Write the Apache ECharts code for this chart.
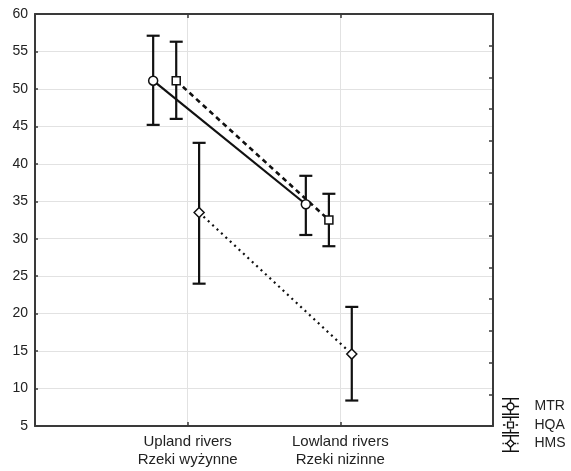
<!DOCTYPE html>
<html>
<head>
<meta charset="utf-8">
<script src="https://cdn.jsdelivr.net/npm/echarts@6/dist/echarts.min.js"></script>
<style>
  html, body { margin: 0; padding: 0; background: #fff; }
  #chart { width: 571px; height: 471px; }
</style>
</head>
<body>
<div id="chart"></div>
<script>
// ---------- data ----------
const categories = ['Upland rivers\nRzeki wyżynne', 'Lowland rivers\nRzeki nizinne'];
const seriesNames = ['MTR', 'HQA', 'HMS'];
const mtrMean = [51.1, 34.6];
const mtrLow  = [45.2, 30.5];
const mtrHigh = [57.1, 38.4];
const hqaMean = [51.1, 32.5];
const hqaLow  = [46.0, 29.0];
const hqaHigh = [56.3, 36.0];
const hmsMean = [33.5, 14.6];
const hmsLow  = [24.0, 8.4];
const hmsHigh = [42.8, 20.9];
const yMin = 5, yMax = 60, yStep = 5;

// ---------- styling ----------
const FONT = '"Liberation Sans", Arial, sans-serif';
const INK = '#111';
const AXIS = '#3a3a3a';
const offsets = [-0.226, -0.075, 0.075];   // horizontal dodge of each series (in category units)
const lineTypes = ['solid', [5, 4], [2, 4]];
const lineWidths = [2.2, 2.6, 2.2];
const symbols = ['circle', 'rect', 'diamond'];
const symbolSizes = [9, 8, 10];

const means = [mtrMean, hqaMean, hmsMean];
const lows = [mtrLow, hqaLow, hmsLow];
const highs = [mtrHigh, hqaHigh, hmsHigh];

function rect(x1, y1, x2, y2) {
  return 'M' + x1 + ' ' + y1 + ' L' + x2 + ' ' + y1 + ' L' + x2 + ' ' + y2 + ' L' + x1 + ' ' + y2 + ' Z ';
}
const common = rect(0, 0, 18, 1.5) + rect(0, 16.5, 18, 18) +
  rect(8.3, 1.5, 9.7, 4.6) + rect(8.3, 13.4, 9.7, 16.5);
const icons = [
  'path://' + common + rect(0, 8.3, 4.6, 9.7) + rect(13.4, 8.3, 18, 9.7) +
    'M4.6 9 A4.4 4.4 0 1 0 13.4 9 A4.4 4.4 0 1 0 4.6 9 Z M6.1 9 A2.9 2.9 0 1 1 11.9 9 A2.9 2.9 0 1 1 6.1 9 Z',
  'path://' + common + rect(1, 8.3, 3.6, 9.7) + rect(14.4, 8.3, 17, 9.7) +
    'M5.2 5.2 L12.8 5.2 L12.8 12.8 L5.2 12.8 Z M6.6 6.6 L6.6 11.4 L11.4 11.4 L11.4 6.6 Z',
  'path://' + common + rect(0.5, 8.3, 1.9, 9.7) + rect(3, 8.3, 4.4, 9.7) +
    rect(13.6, 8.3, 15, 9.7) + rect(16.1, 8.3, 17.5, 9.7) +
    'M9 4 L14 9 L9 14 L4 9 Z M9 6 L6 9 L9 12 L12 9 Z'
];

const series = [];
// error bars
seriesNames.forEach(function (name, s) {
  series.push({
    name: name + ' error',
    type: 'custom',
    xAxisIndex: 0,
    yAxisIndex: 0,
    z: 2,
    silent: true,
    encode: { x: 0, y: [1, 2] },
    data: categories.map(function (c, i) { return [i + 1 + offsets[s], lows[s][i], highs[s][i]]; }),
    renderItem: function (params, api) {
      const x = api.value(0);
      const pLo = api.coord([x, api.value(1)]);
      const pHi = api.coord([x, api.value(2)]);
      const hw = 6.5;
      const st = { stroke: INK, lineWidth: 2.2, fill: null };
      return {
        type: 'group',
        children: [
          { type: 'line', shape: { x1: pLo[0], y1: pLo[1], x2: pHi[0], y2: pHi[1] }, style: st },
          { type: 'line', shape: { x1: pHi[0] - hw, y1: pHi[1], x2: pHi[0] + hw, y2: pHi[1] }, style: st },
          { type: 'line', shape: { x1: pLo[0] - hw, y1: pLo[1], x2: pLo[0] + hw, y2: pLo[1] }, style: st }
        ]
      };
    }
  });
});
// mean lines with markers
seriesNames.forEach(function (name, s) {
  series.push({
    name: name,
    type: 'line',
    xAxisIndex: 0,
    yAxisIndex: 0,
    z: 3,
    data: categories.map(function (c, i) { return [i + 1 + offsets[s], means[s][i]]; }),
    symbol: symbols[s],
    symbolSize: symbolSizes[s],
    showSymbol: true,
    lineStyle: { color: INK, width: lineWidths[s], type: lineTypes[s] },
    itemStyle: { color: '#fff', borderColor: INK, borderWidth: 1.5 },
    emphasis: { disabled: true },
    animation: false
  });
});

const chart = echarts.init(document.getElementById('chart'), null, { renderer: 'canvas' });
chart.setOption({
  animation: false,
  backgroundColor: '#fff',
  textStyle: { fontFamily: FONT },
  grid: { left: 35, top: 14, right: 78, bottom: 45, containLabel: false },
  legend: {
    orient: 'vertical',
    left: 497,
    top: 393,
    itemWidth: 18,
    itemHeight: 17,
    itemGap: 1.5,
    selectedMode: false,
    textStyle: { fontFamily: FONT, fontSize: 14, color: '#222', padding: [0, 0, 0, 10] },
    data: seriesNames.map(function (n, s) {
      return { name: n, icon: icons[s], itemStyle: { color: INK, borderWidth: 0 } };
    })
  },
  xAxis: [
    {
      type: 'value',
      min: 0, max: categories.length + 1, interval: 1,
      axisLine: { show: true, lineStyle: { color: AXIS, width: 2 } },
      axisTick: { show: true, inside: true, length: 4, lineStyle: { color: AXIS, width: 1.5 } },
      splitLine: { show: true, lineStyle: { color: '#e2e2e2', width: 1 } },
      axisLabel: {
        fontFamily: FONT, fontSize: 15, color: '#222', lineHeight: 18, margin: 7,
        formatter: function (v) { return categories[v - 1] || ''; }
      }
    },
    {
      type: 'value', position: 'top',
      min: 0, max: categories.length + 1, interval: 1,
      axisLine: { show: true, onZero: false, lineStyle: { color: AXIS, width: 2 } },
      axisTick: { show: true, inside: true, length: 4, lineStyle: { color: AXIS, width: 1.5 } },
      splitLine: { show: false },
      axisLabel: { show: false }
    }
  ],
  yAxis: [
    {
      type: 'value',
      min: yMin, max: yMax, interval: yStep,
      axisLine: { show: true, lineStyle: { color: AXIS, width: 2 } },
      axisTick: { show: true, inside: true, length: 3, lineStyle: { color: AXIS, width: 1.5 } },
      splitLine: { show: true, lineStyle: { color: '#e2e2e2', width: 1 } },
      axisLabel: { fontFamily: FONT, fontSize: 14, color: '#222', margin: 7 }
    },
    {
      type: 'value', position: 'right',
      min: 0, max: 13, interval: 1,
      axisLine: { show: true, onZero: false, lineStyle: { color: AXIS, width: 2 } },
      axisTick: { show: true, inside: true, length: 4, lineStyle: { color: AXIS, width: 1.5 } },
      splitLine: { show: false },
      axisLabel: { show: false }
    }
  ],
  series: series
});
</script>
</body>
</html>
